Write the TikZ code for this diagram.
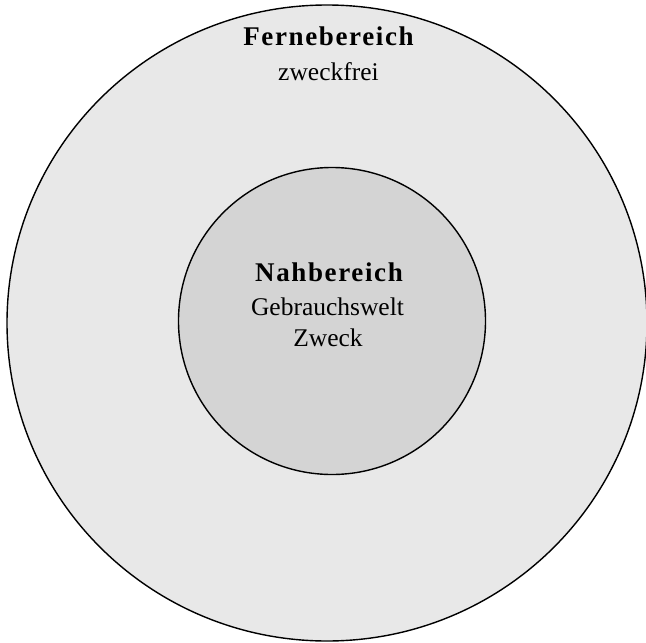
\documentclass[tikz,border=0pt]{standalone}
\usepackage{fontspec}
\setmainfont{Liberation Serif}
\newfontfamily\spbold{Liberation Serif Bold}[LetterSpace=6]
\definecolor{outerfill}{HTML}{E8E8E8}
\definecolor{innerfill}{HTML}{D4D4D4}
\tikzset{
  ring/.style={draw=black, line width=1.4pt},
  title/.style={anchor=base, inner sep=0pt, font=\spbold\fontsize{27}{32}\selectfont},
  sub/.style={anchor=base, inner sep=0pt, font=\fontsize{25.5}{30}\selectfont}
}
\begin{document}
\begin{tikzpicture}[x=1pt,y=-1pt]
\useasboundingbox (0,0) rectangle (646,643);
\fill[white] (0,0) rectangle (646,643);
\draw[ring, fill=outerfill] (327,323) ellipse [x radius=320, y radius=318];
\draw[ring, fill=innerfill] (332,321) circle [radius=153.5];
\node[title] (fern) at (328.5,45.7) {Fernebereich};
\node[sub] (frei) at (328.5,80) {zweckfrei};
\node[title] (nah) at (329,281.7) {Nahbereich};
\node[sub] (gebr) at (327.5,315) {Gebrauchswelt};
\node[sub] (zweck) at (328,346.7) {Zweck};
\end{tikzpicture}
\end{document}
